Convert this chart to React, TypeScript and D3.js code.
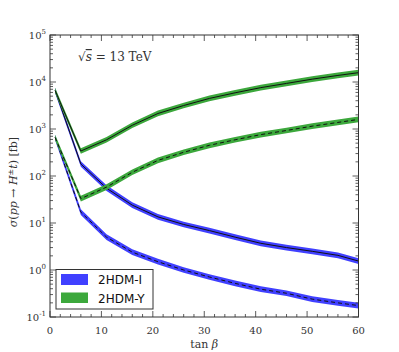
import React from "react";
import * as d3 from "d3";

// tan(beta) sample points
const tanBeta = [1, 6, 11, 16, 21, 26, 31, 36, 41, 46, 51, 56, 60];

// cross sections in fb
const typeI_upper = [6600, 180, 55, 24, 13.5, 9.3, 6.9, 5.0, 3.7, 3.0, 2.5, 2.05, 1.55];
const typeI_lower = [660, 17, 5.0, 2.4, 1.5, 1.0, 0.71, 0.52, 0.39, 0.32, 0.24, 0.2, 0.175];
const typeY_upper = [6600, 340, 590, 1200, 2140, 3160, 4470, 5890, 7590, 9330, 11500, 13800, 15800];
const typeY_lower = [660, 33, 58, 120, 215, 320, 450, 590, 760, 930, 1150, 1380, 1600];

const xTicks = [0, 10, 20, 30, 40, 50, 60];
const yTicks = [-1, 0, 1, 2, 3, 4, 5];

const W = 399;
const H = 352;
const left = 50;
const right = 358.5;
const top = 35;
const bottom = 317;

const BLUE = "#4040ff";
const GREEN = "#3ca83c";
const FONT = "'DejaVu Serif', serif";

export default function App() {
  const x = d3.scaleLinear().domain([0, 60]).range([left, right]);
  const y = d3.scaleLog().domain([0.1, 1e5]).range([bottom, top]);

  const band = d3
    .area<number>()
    .x((_, i) => x(tanBeta[i]))
    .y0((d) => y(d * 0.87))
    .y1((d) => y(d * 1.15));
  const line = d3
    .line<number>()
    .x((_, i) => x(tanBeta[i]))
    .y((d) => y(d));

  const series = [
    { vals: typeI_upper, color: BLUE, dash: "" },
    { vals: typeI_lower, color: BLUE, dash: "4,3" },
    { vals: typeY_upper, color: GREEN, dash: "" },
    { vals: typeY_lower, color: GREEN, dash: "4,3" },
  ];

  // minor ticks
  const xMinor = d3.range(0, 61, 2).filter((v) => v % 10 !== 0);
  const yMinor: number[] = [];
  for (let e = -1; e < 5; e++) {
    for (let k = 2; k <= 9; k++) yMinor.push(k * Math.pow(10, e));
  }

  return (
    <svg
      width={W}
      height={H}
      style={{ position: "absolute", left: 0, top: 0, background: "#fff" }}
    >
      <defs>
        <clipPath id="plotclip">
          <rect x={left} y={top} width={right - left} height={bottom - top} />
        </clipPath>
      </defs>

      <g clipPath="url(#plotclip)">
        {series.map((s, i) => (
          <g key={i}>
            <path d={band(s.vals) || ""} fill={s.color} />
            <path
              d={line(s.vals) || ""}
              fill="none"
              stroke="#111"
              strokeWidth={1}
              strokeDasharray={s.dash}
            />
          </g>
        ))}
      </g>

      {/* ticks */}
      <g stroke="#333" strokeWidth={0.8}>
        {xTicks.map((t) => (
          <g key={"xt" + t}>
            <line x1={x(t)} x2={x(t)} y1={bottom} y2={bottom - 6} />
            <line x1={x(t)} x2={x(t)} y1={top} y2={top + 6} />
          </g>
        ))}
        {xMinor.map((t) => (
          <g key={"xm" + t}>
            <line x1={x(t)} x2={x(t)} y1={bottom} y2={bottom - 3} />
            <line x1={x(t)} x2={x(t)} y1={top} y2={top + 3} />
          </g>
        ))}
        {yTicks.map((e) => (
          <g key={"yt" + e}>
            <line x1={left} x2={left + 6} y1={y(Math.pow(10, e))} y2={y(Math.pow(10, e))} />
            <line x1={right} x2={right - 6} y1={y(Math.pow(10, e))} y2={y(Math.pow(10, e))} />
          </g>
        ))}
        {yMinor.map((v, i) => (
          <g key={"ym" + i}>
            <line x1={left} x2={left + 3} y1={y(v)} y2={y(v)} />
            <line x1={right} x2={right - 3} y1={y(v)} y2={y(v)} />
          </g>
        ))}
      </g>

      <rect
        x={left}
        y={top}
        width={right - left}
        height={bottom - top}
        fill="none"
        stroke="#333"
        strokeWidth={1}
      />

      {/* tick labels */}
      <g fontFamily={FONT} fontSize={10} fill="#333">
        {xTicks.map((t) => (
          <text key={"xl" + t} x={x(t)} y={bottom + 17} textAnchor="middle">
            {t}
          </text>
        ))}
        {yTicks.map((e) => (
          <text key={"yl" + e} x={left - 4} y={y(Math.pow(10, e)) + 4} textAnchor="end">
            10
            <tspan fontSize={7} dy={-5}>
              {e}
            </tspan>
          </text>
        ))}
      </g>

      {/* axis titles */}
      <text
        x={(left + right) / 2}
        y={348}
        textAnchor="middle"
        fontFamily={FONT}
        fontSize={11}
        fill="#333"
      >
        tan <tspan fontStyle="italic">β</tspan>
      </text>
      <text
        transform={`translate(17,${182}) rotate(-90)`}
        textAnchor="middle"
        fontFamily={FONT}
        fontSize={11}
        fill="#333"
      >
        <tspan fontStyle="italic">σ</tspan>(<tspan fontStyle="italic">pp</tspan> →{" "}
        <tspan fontStyle="italic">H</tspan>
        <tspan fontSize={8} dy={-4}>±</tspan>
        <tspan dy={4} fontStyle="italic">t</tspan>) [fb]
      </text>

      {/* annotation */}
      <text x={78} y={61} fontFamily={FONT} fontSize={12} fill="#333">
        √<tspan fontStyle="italic" textDecoration="overline">s</tspan> = 13 TeV
      </text>

      {/* legend */}
      <g>
        <rect x={56} y={269.5} width={97} height={39.5} fill="#fff" stroke="#333" strokeWidth={1} />
        <rect x={61} y={274} width={27} height={11} fill={BLUE} />
        <rect x={61} y={292.5} width={27} height={10.5} fill={GREEN} />
        <text x={98} y={284} fontFamily="'DejaVu Sans', sans-serif" fontSize={12} fill="#111">
          2HDM-I
        </text>
        <text x={98} y={302.5} fontFamily="'DejaVu Sans', sans-serif" fontSize={12} fill="#111">
          2HDM-Y
        </text>
      </g>
    </svg>
  );
}
